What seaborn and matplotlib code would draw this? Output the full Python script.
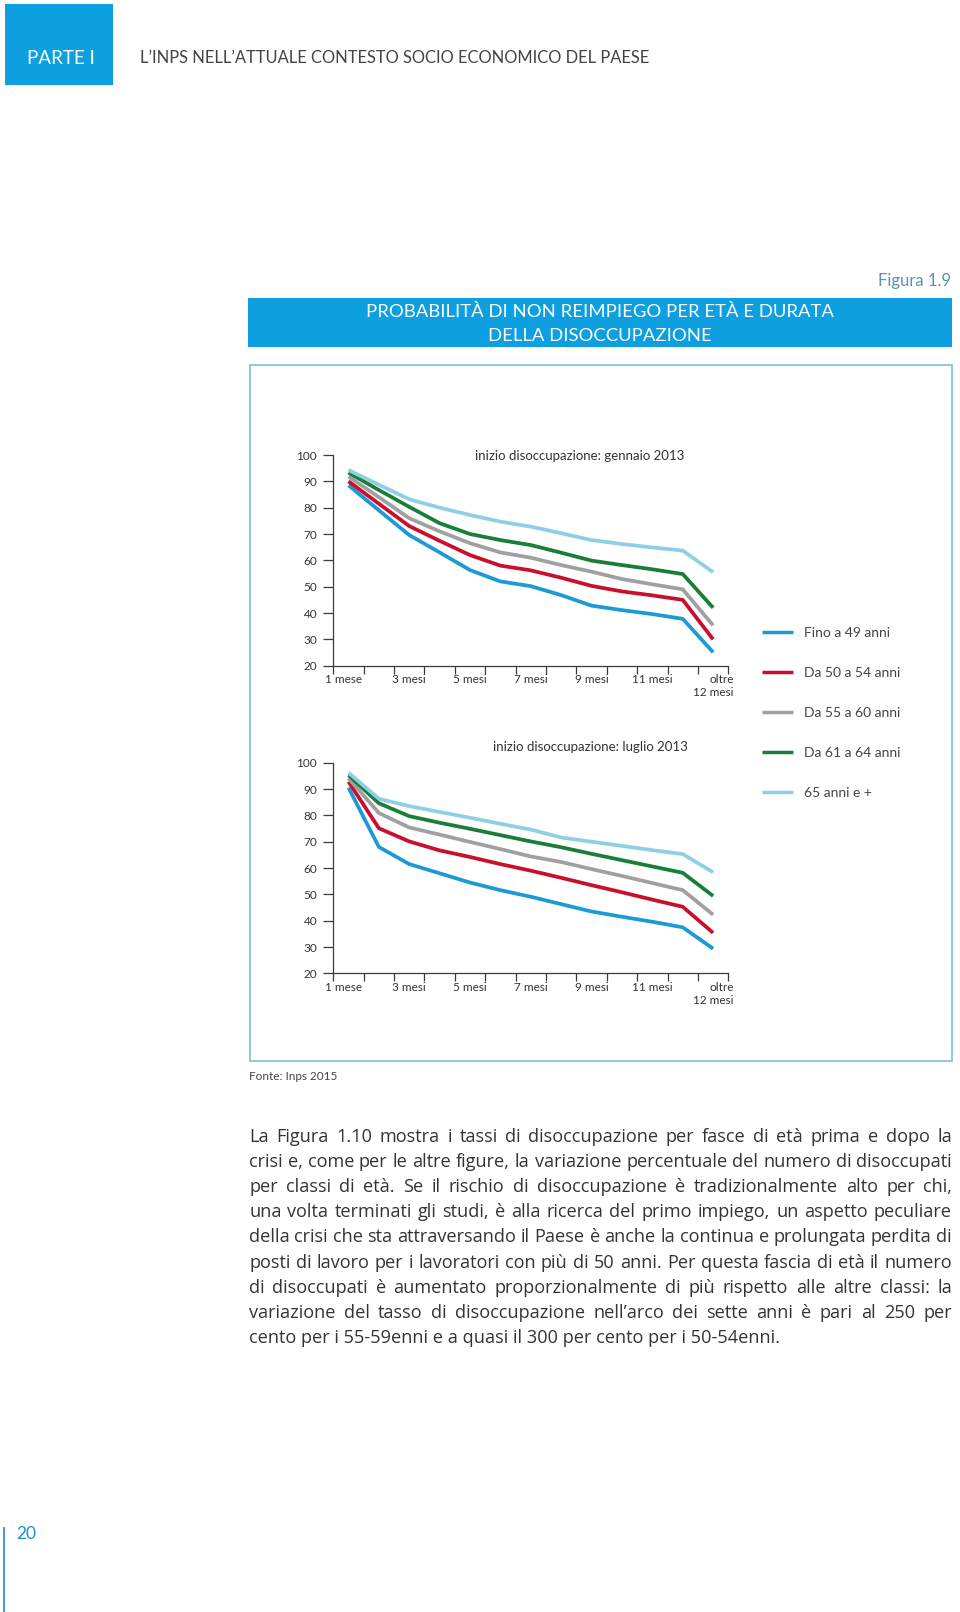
import numpy as np
import pandas as pd
import matplotlib
matplotlib.use("Agg")
import matplotlib.pyplot as plt
import matplotlib.transforms as mtransforms
from matplotlib.patches import Rectangle
from matplotlib.lines import Line2D
import seaborn as sns

# ---------------- data ----------------
durata = ["1 mese", "2 mesi", "3 mesi", "4 mesi", "5 mesi", "6 mesi", "7 mesi",
          "8 mesi", "9 mesi", "10 mesi", "11 mesi", "12 mesi", "oltre 12 mesi"]
etichette_x = ["1 mese", "3 mesi", "5 mesi", "7 mesi", "9 mesi", "11 mesi", "oltre\n12 mesi"]
gruppi = ["Fino a 49 anni", "Da 50 a 54 anni", "Da 55 a 60 anni", "Da 61 a 64 anni", "65 anni e +"]
colori = ["#1b9ad6", "#c8102e", "#a0a0a0", "#1b7d3a", "#8fcfe6"]
y_ticks = [20, 30, 40, 50, 60, 70, 80, 90, 100]

# inizio disoccupazione: gennaio 2013
gen_fino49 = [88.5, 79.0, 69.6, 63.0, 56.3, 52.0, 50.2, 46.8, 42.8, 41.1, 39.6, 37.8, 25.1]
gen_50_54 = [90.0, 81.5, 73.0, 67.4, 62.0, 58.0, 56.2, 53.4, 50.3, 48.2, 46.7, 45.0, 30.0]
gen_55_60 = [91.8, 84.0, 76.0, 71.0, 66.5, 63.0, 61.0, 58.2, 55.7, 52.9, 50.9, 49.0, 35.3]
gen_61_64 = [93.3, 86.7, 80.3, 74.1, 70.0, 67.7, 65.8, 62.9, 59.9, 58.2, 56.6, 54.8, 42.0]
gen_65 = [94.3, 88.7, 83.2, 80.0, 77.2, 74.7, 72.8, 70.3, 67.7, 66.2, 64.9, 63.7, 55.5]

# inizio disoccupazione: luglio 2013
lug_fino49 = [90.5, 68.0, 61.5, 58.0, 54.5, 51.6, 49.1, 46.3, 43.5, 41.5, 39.6, 37.5, 29.4]
lug_50_54 = [92.8, 75.1, 70.1, 66.7, 64.2, 61.5, 59.0, 56.3, 53.5, 50.8, 48.0, 45.3, 35.4]
lug_55_60 = [94.1, 80.9, 75.4, 72.7, 69.9, 67.2, 64.4, 62.3, 59.6, 57.0, 54.3, 51.6, 42.3]
lug_61_64 = [95.3, 84.6, 79.7, 77.2, 74.9, 72.5, 70.1, 67.9, 65.4, 63.0, 60.6, 58.2, 49.4]
lug_65 = [96.2, 86.3, 83.5, 81.3, 79.1, 76.8, 74.6, 71.6, 70.0, 68.4, 66.8, 65.3, 58.4]

righe_testo = [
    "La Figura 1.10 mostra i tassi di disoccupazione per fasce di età prima e dopo la",
    "crisi e, come per le altre figure, la variazione percentuale del numero di disoccupati",
    "per classi di età.  Se il rischio di disoccupazione è tradizionalmente alto per chi,",
    "una volta terminati gli studi, è alla ricerca del primo impiego, un aspetto peculiare",
    "della crisi che sta attraversando il Paese è anche la continua e prolungata perdita di",
    "posti di lavoro per i lavoratori con più di 50 anni. Per questa fascia di età il numero",
    "di disoccupati è aumentato proporzionalmente di più rispetto alle altre classi: la",
    "variazione del tasso di disoccupazione nell’arco dei sette anni è pari al 250 per",
    "cento per i 55-59enni e a quasi il 300 per cento per i 50-54enni.",
]


def long_df(series):
    rows = []
    for g, vals in zip(gruppi, series):
        for i, (d, v) in enumerate(zip(durata, vals)):
            rows.append({"pos": i, "durata": d, "gruppo": g, "valore": v})
    return pd.DataFrame(rows)


df_gen = long_df([gen_fino49, gen_50_54, gen_55_60, gen_61_64, gen_65])
df_lug = long_df([lug_fino49, lug_50_54, lug_55_60, lug_61_64, lug_65])

# ---------------- figure ----------------
W, H = 960, 1612
sns.set_theme(style="white")
plt.rcParams["font.family"] = ["Lato", "DejaVu Sans"]
plt.rcParams["lines.solid_capstyle"] = "butt"

fig = plt.figure(figsize=(W / 100, H / 100), dpi=100)
fig.patch.set_facecolor("white")


def fx(x):
    return x / W


def fy(y):
    return 1 - y / H


BLUE = "#0d9fe0"
DARK = "#3a3a3a"

# header
fig.add_artist(Rectangle((fx(5), fy(85)), fx(113) - fx(5), (85 - 4) / H,
                         transform=fig.transFigure, fc=BLUE, ec="none"))
fig.text(fx(61), fy(58), "PARTE I", color="white", fontsize=13.5,
         ha="center", va="center")
fig.text(fx(140), fy(58), "L’INPS NELL’ATTUALE CONTESTO SOCIO ECONOMICO DEL PAESE",
         color="#444444", fontsize=11.9, ha="left", va="center")

# figure label and title box
fig.text(fx(951), fy(281), "Figura 1.9", color="#5a90b4", fontsize=12,
         ha="right", va="center")
fig.add_artist(Rectangle((fx(248), fy(347)), fx(952) - fx(248), (347 - 298) / H,
                         transform=fig.transFigure, fc=BLUE, ec="none"))
fig.text(fx(600), fy(312), "PROBABILITÀ DI NON REIMPIEGO PER ETÀ E DURATA",
         color="white", fontsize=13.3, ha="center", va="center")
fig.text(fx(600), fy(336), "DELLA DISOCCUPAZIONE",
         color="white", fontsize=13.3, ha="center", va="center")

# chart frame
fig.add_artist(Rectangle((fx(249.5), fy(1061)), fx(951.5) - fx(249.5), (1061 - 365) / H,
                         transform=fig.transFigure, fill=False, ec="#7dbfd8", lw=1.2))


def draw_panel(top_px, df, titolo, title_xy):
    ax = fig.add_axes([fx(333.3), fy(top_px + 210.7), 395 / W, 210.7 / H])
    sns.lineplot(data=df, x="pos", y="valore", hue="gruppo", hue_order=gruppi,
                 palette=colori, linewidth=2.7, legend=False, ax=ax)
    ax.set_xlim(-0.5, len(durata) - 0.5)
    ax.set_ylim(20, 100)
    ax.set_xlabel("")
    ax.set_ylabel("")
    for s in ["top", "right"]:
        ax.spines[s].set_visible(False)
    for s in ["left", "bottom"]:
        ax.spines[s].set_color(DARK)
        ax.spines[s].set_linewidth(0.9)
    ax.set_yticks(y_ticks)
    ax.set_yticklabels([str(v) for v in y_ticks])
    ax.tick_params(axis="y", direction="out", length=7.2, width=0.9, color=DARK,
                   pad=4.5, labelsize=8.5, labelcolor="#333333", left=True)
    ax.set_xticks(np.arange(-0.5, len(durata), 1.0))
    ax.set_xticklabels([])
    ax.set_xticks(np.arange(0, len(durata), 2), minor=True)
    ax.set_xticklabels(etichette_x, minor=True)
    ax.tick_params(axis="x", which="major", direction="out", length=5.5, width=0.9,
                   color=DARK, bottom=True)
    ax.tick_params(axis="x", which="minor", length=0, pad=6, labelsize=8.5,
                   labelcolor="#333333")
    labs = ax.get_xticklabels(minor=True)
    off_first = mtransforms.ScaledTranslation(-5 / 100, 0, fig.dpi_scale_trans)
    labs[0].set_transform(labs[0].get_transform() + off_first)
    last = labs[-1]
    last.set_multialignment("right")
    off = mtransforms.ScaledTranslation(0.5 / 100, 0, fig.dpi_scale_trans)
    last.set_transform(last.get_transform() + off)
    ax.patch.set_alpha(0)
    fig.text(fx(title_xy[0]), fy(title_xy[1]), titolo, color="#333333",
             fontsize=9.5, ha="center", va="center")
    return ax


draw_panel(455.0, df_gen, "inizio disoccupazione: gennaio 2013", (580, 456))
draw_panel(762.7, df_lug, "inizio disoccupazione: luglio 2013", (590, 747))

# legend
handles = [Line2D([], [], color=c, lw=2.5) for c in colori]
fig.legend(handles=handles, labels=gruppi, loc="upper left",
           bbox_to_anchor=(fx(762), fy(627)), bbox_transform=fig.transFigure,
           frameon=False, fontsize=10, handlelength=2.25, handletextpad=0.8,
           labelspacing=2.02, borderpad=0, borderaxespad=0, labelcolor="#444444")

# source
fig.text(fx(249), fy(1077), "Fonte: Inps 2015", color="#444444", fontsize=8.5,
         ha="left", va="center")

# body text, justified
renderer = fig.canvas.get_renderer()
left, right = 249.0, 952.0
base0, passo = 1141.5, 25.2
body_kw = dict(fontsize=13.1, color="#333333", ha="left", va="baseline",
               family=["Open Sans", "DejaVu Sans"])
for i, riga in enumerate(righe_testo):
    y = fy(base0 + i * passo)
    if i == len(righe_testo) - 1:
        fig.text(fx(left), y, riga, **body_kw)
        continue
    parole = riga.split()
    objs = [fig.text(0, y, p, **body_kw) for p in parole]
    larg = [o.get_window_extent(renderer).width for o in objs]
    gap = (right - left - sum(larg)) / (len(parole) - 1)
    x = left
    for o, w in zip(objs, larg):
        o.set_x(fx(x))
        x += w + gap

# page number
fig.add_artist(Line2D([fx(4), fx(4)], [fy(1527), fy(1612)], transform=fig.transFigure,
                      color="#1b8fd0", lw=1.2))
fig.text(fx(16), fy(1534), "20", color="#1b8fd0", fontsize=12.5, ha="left", va="center")

fig.savefig("out.png", dpi=100)
